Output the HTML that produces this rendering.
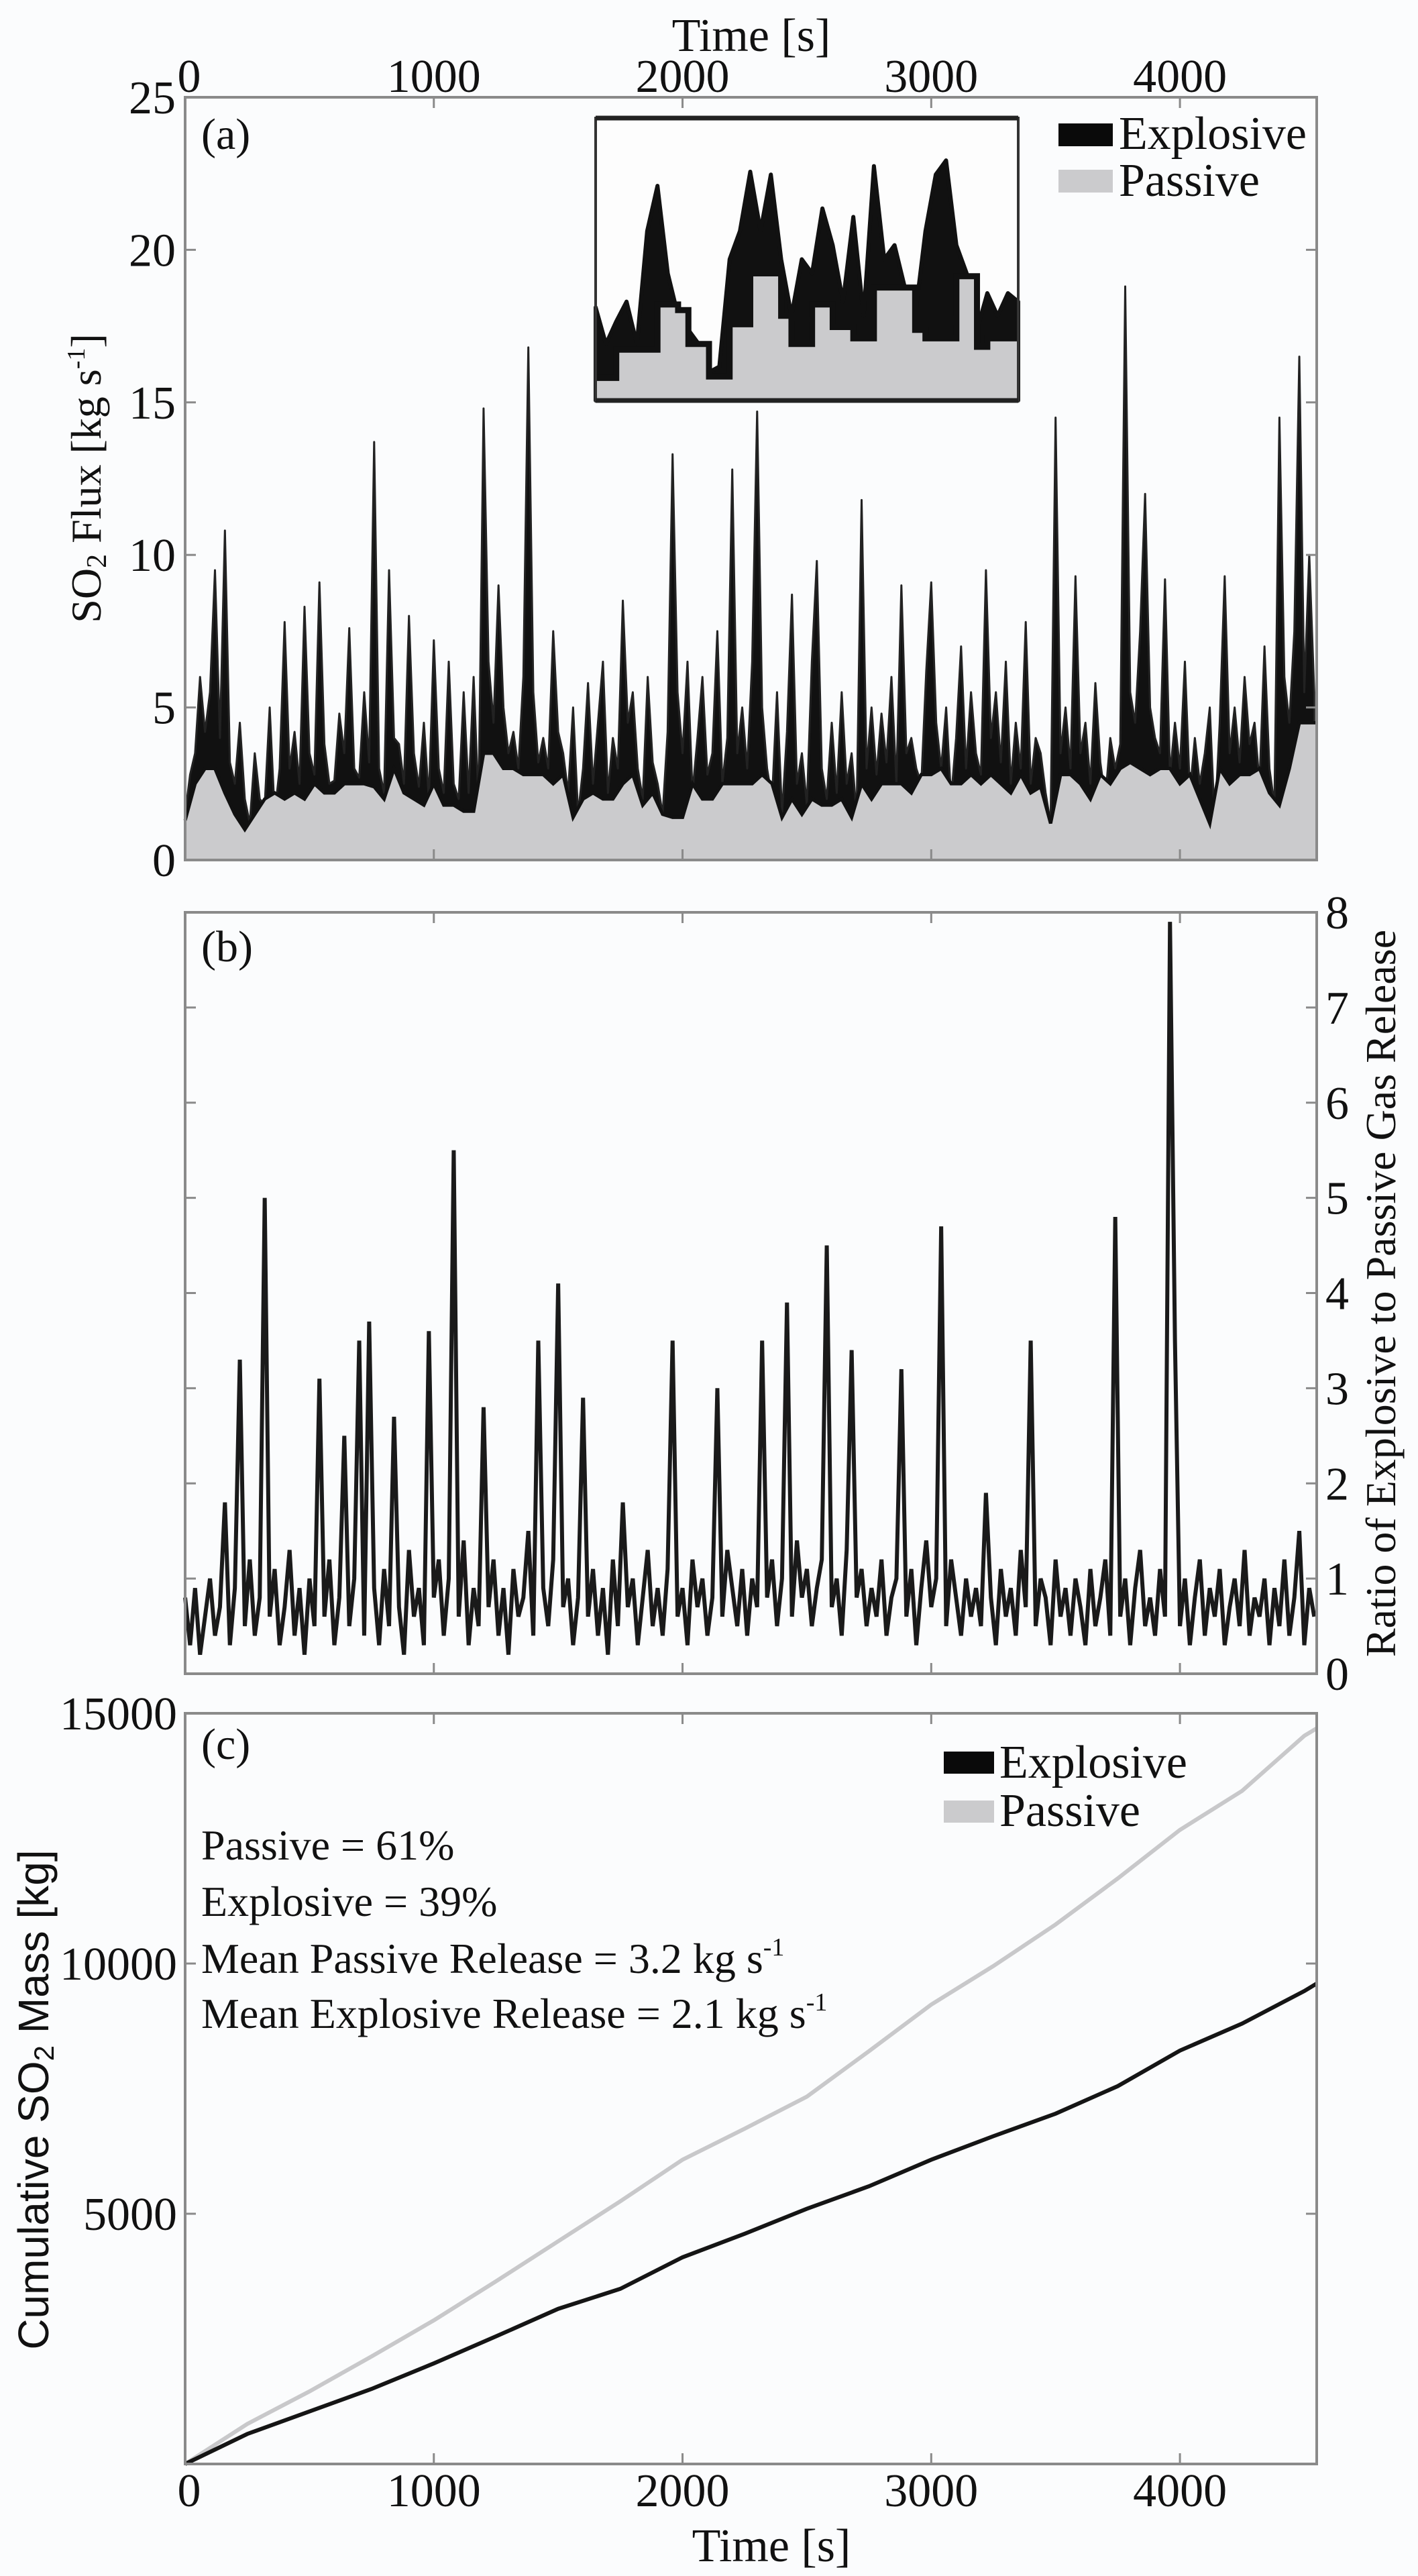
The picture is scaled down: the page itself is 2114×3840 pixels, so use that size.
<!DOCTYPE html>
<html><head><meta charset="utf-8">
<style>
html,body{margin:0;padding:0;background:#fbfcfd;}
svg{display:block;font-family:"Liberation Serif",serif;}
</style></head>
<body>
<svg id="fig" width="2114" height="3840" viewBox="0 0 2114 3840" xmlns="http://www.w3.org/2000/svg">
<rect width="2114" height="3840" fill="#fbfcfd"/>
</svg>
<script>
// ---------- data ----------
const timeTicks = [0,1000,2000,3000,4000];
const tMax = 4550;
// panel (a): SO2 flux, total (explosive+passive) at 20 s steps
const fluxStep = 20;
const fluxTotal = [
1.5,2.8,3.5,6.0,4.2,5.5,9.5,4.0,10.8,3.2,2.5,4.5,2.0,1.2,3.5,2.0,1.8,5.0,1.5,3.0,
7.8,3.0,4.2,2.5,8.3,3.5,2.8,9.1,3.8,2.5,2.6,4.8,3.5,7.6,3.0,2.7,5.5,3.2,13.7,3.0,
2.2,9.5,4.0,3.8,2.5,8.0,3.5,2.4,4.5,2.0,7.2,3.0,2.2,6.5,2.5,2.0,5.5,2.2,6.0,1.8,
14.8,6.5,4.5,9.0,5.0,3.5,4.2,3.0,6.0,16.8,5.5,3.2,4.0,3.0,7.5,4.2,3.5,2.2,5.0,1.5,
3.0,5.8,2.5,4.5,6.5,2.2,4.0,3.0,8.5,4.5,5.5,3.0,2.0,6.0,3.2,2.5,1.5,4.2,13.3,5.5,
3.5,6.5,2.2,4.0,6.0,2.8,3.5,7.5,2.5,4.0,12.8,3.5,5.0,3.0,6.5,14.7,5.0,3.0,2.0,5.5,
1.5,4.2,8.7,2.5,3.5,1.8,6.5,9.8,3.0,2.0,4.5,2.2,5.5,2.5,3.5,1.5,11.8,3.0,5.0,2.8,
4.8,3.2,6.0,2.5,9.0,3.5,4.0,3.0,2.5,6.2,9.1,4.5,3.0,5.0,2.0,4.0,7.0,3.0,5.5,3.5,
2.8,9.5,4.0,5.5,3.2,6.5,2.5,4.5,3.0,7.8,2.5,4.0,3.5,2.2,1.2,14.5,3.5,5.0,3.0,9.3,
3.5,4.5,2.5,5.8,3.2,2.0,4.0,3.0,3.8,18.8,5.5,4.5,7.5,12.0,5.0,4.0,3.5,9.2,2.8,4.5,
3.0,6.5,2.2,4.0,2.5,3.5,5.0,1.2,4.5,9.3,3.5,5.0,3.2,6.0,3.8,4.5,2.5,7.0,3.0,1.8,
14.5,6.0,4.5,7.5,16.5,5.5,10.0,5.5];
// passive flux at 40 s steps
const passiveStep = 40;
const fluxPassive = [
1.3,2.5,3.0,3.0,2.2,1.5,1.0,1.5,2.0,2.2,2.0,2.2,2.0,2.5,2.2,2.2,2.5,2.5,2.5,2.4,
2.0,3.0,2.2,2.0,1.8,2.5,1.8,1.8,1.6,1.6,3.5,3.5,3.0,3.0,2.8,2.8,2.8,2.5,2.8,1.4,
2.0,2.2,2.0,2.0,2.5,2.8,1.8,2.2,1.5,1.4,1.4,2.5,2.0,2.0,2.5,2.5,2.5,2.5,2.8,2.5,
1.4,2.0,1.5,2.0,1.8,1.8,2.0,1.4,2.5,2.0,2.5,2.5,2.5,2.2,2.8,2.8,3.0,2.5,2.5,2.8,
2.5,2.8,2.5,2.2,2.8,2.2,2.4,1.2,2.8,2.8,2.5,2.0,2.8,2.5,3.0,3.2,3.0,2.8,3.0,3.0,
2.5,2.8,2.0,1.2,3.0,2.5,2.8,2.8,3.0,2.2,1.8,3.0,4.5,4.5];
const fluxTicks = [0,5,10,15,20,25];
// inset (unitless zoom of a segment)
const insetTotal = [3.3,2.0,2.8,3.5,2.0,6.0,7.6,4.5,3.0,2.5,2.0,1.0,1.2,5.0,6.0,8.1,6.0,8.0,5.0,3.0,5.0,4.5,6.8,5.5,3.5,6.5,3.0,8.3,5.0,5.5,4.0,3.0,6.0,8.0,8.5,5.5,4.5,2.5,3.8,3.0,3.8,3.5];
const insetPassive = [0.8,0.8,1.8,1.8,1.8,1.8,3.4,3.4,3.2,2.0,2.0,0.85,0.85,2.7,2.7,4.5,4.5,4.5,3.0,2.0,2.0,3.4,3.4,2.6,2.6,2.2,2.2,4.0,4.0,4.0,4.0,2.5,2.2,2.2,2.2,4.4,4.4,1.9,2.2,2.2,2.2,2.2];
// panel (b): ratio, 20 s steps
const ratioStep = 20;
const ratio = [
0.8,0.3,0.9,0.2,0.6,1.0,0.4,0.7,1.8,0.3,0.9,3.3,0.5,1.2,0.4,0.8,5.0,0.6,1.1,0.3,
0.7,1.3,0.4,0.9,0.2,1.0,0.5,3.1,0.6,1.2,0.3,0.8,2.5,0.5,1.0,3.5,0.4,3.7,0.9,0.3,
1.1,0.5,2.7,0.7,0.2,1.3,0.6,0.9,0.3,3.6,0.8,1.2,0.4,1.0,5.5,0.6,1.4,0.3,0.9,0.5,
2.8,0.7,1.2,0.4,0.9,0.2,1.1,0.6,0.8,1.5,0.4,3.5,0.9,0.5,1.2,4.1,0.7,1.0,0.3,0.8,
2.9,0.6,1.1,0.4,0.9,0.2,1.2,0.5,1.8,0.7,1.0,0.3,0.8,1.3,0.5,0.9,0.4,1.1,3.5,0.6,
0.9,0.3,1.2,0.7,1.0,0.4,0.8,3.0,0.6,1.3,0.9,0.5,1.1,0.4,1.0,0.7,3.5,0.8,1.2,0.5,
1.0,3.9,0.6,1.4,0.8,1.1,0.5,0.9,1.2,4.5,0.7,1.0,0.4,1.3,3.4,0.8,1.1,0.5,0.9,0.6,
1.2,0.4,0.8,1.0,3.2,0.6,1.1,0.3,0.9,1.4,0.7,1.0,4.7,0.5,1.2,0.8,0.4,1.0,0.6,0.9,
0.5,1.9,0.8,0.3,1.1,0.6,0.9,0.4,1.3,0.7,3.5,0.5,1.0,0.8,0.3,1.2,0.6,0.9,0.4,1.0,
0.7,0.3,1.1,0.5,0.8,1.2,0.4,4.8,0.6,1.0,0.3,0.9,1.3,0.5,0.8,0.4,1.1,0.6,7.9,3.5,
0.5,1.0,0.3,0.8,1.2,0.4,0.9,0.6,1.1,0.3,0.7,1.0,0.5,1.3,0.4,0.8,0.6,1.0,0.3,0.9,
0.5,1.2,0.4,0.8,1.5,0.3,0.9,0.6];
const ratioTicks = [0,1,2,3,4,5,6,7,8];
// panel (c): cumulative mass
const cumTime = [0,250,500,750,1000,1250,1500,1750,2000,2250,2500,2750,3000,3250,3500,3750,4000,4250,4500,4550];
const cumPassive = [0,800,1450,2150,2870,3650,4450,5250,6080,6700,7340,8250,9180,9950,10780,11700,12670,13450,14550,14700];
const cumExplosive = [0,600,1050,1500,2010,2550,3100,3500,4130,4600,5100,5550,6080,6550,7000,7550,8260,8800,9450,9600];
const massTicks = [5000,10000,15000];

// ---------- helpers ----------
const NS = "http://www.w3.org/2000/svg";
const svg = document.getElementById('fig');
function mk(tag, attrs, parent){
  const e = document.createElementNS(NS, tag);
  for (const k in attrs) e.setAttribute(k, attrs[k]);
  (parent||svg).appendChild(e);
  return e;
}
const L = 276, R = 1963;
const X = t => L + (t / tMax) * (R - L);
const AX = "#8a8a8a";
const A = {top:145, bot:1282, max:25};
const B = {top:1360, bot:2495, max:8};
const C = {top:2554, bot:3673, max:15000};
const Ya = v => A.bot - v / A.max * (A.bot - A.top);
const Yb = v => B.bot - v / B.max * (B.bot - B.top);
const Yc = v => C.bot - v / C.max * (C.bot - C.top);

function text(str, x, y, size, anchor, name, extra){
  const t = mk('text', Object.assign({x:x, y:y, 'font-size':size, 'text-anchor':anchor||'middle', fill:'#111'}, extra||{}));
  t.textContent = str;
  
  
  return t;
}

// ---------- panel (a) ----------
const gA = mk('g', {});


let pts = [[X(0), Ya(0)]];
fluxTotal.forEach((v,i)=>pts.push([X(Math.min(i*fluxStep,tMax)), Ya(v)]));
pts.push([X(Math.min((fluxTotal.length-1)*fluxStep,tMax)), Ya(0)]);
const expArea = mk('polygon', {points: pts.map(p=>p.join(',')).join(' '), fill:'#111', stroke:'#222', 'stroke-width':3, 'stroke-linejoin':'round'}, gA);


pts = [[X(0), Ya(0)]];
fluxPassive.forEach((v,i)=>pts.push([X(Math.min(i*passiveStep,tMax)), Ya(v)]));
pts.push([X(tMax), Ya(fluxPassive[fluxPassive.length-1])]);
pts.push([X(tMax), Ya(0)]);
const pasArea = mk('polygon', {points: pts.map(p=>p.join(',')).join(' '), fill:'#cbcbcd'}, gA);


const pasEdge = mk('polyline', {points: pts.slice(1,-1).map(p=>p.join(',')).join(' '), fill:'none', stroke:'#111', 'stroke-width':5}, gA);



function frame(P, name){
  const r = mk('rect', {x:L, y:P.top, width:R-L, height:P.bot-P.top, fill:'none', stroke:AX, 'stroke-width':4});
  
  
  timeTicks.forEach(t=>{
    mk('line', {x1:X(t), x2:X(t), y1:P.bot, y2:P.bot-16, stroke:AX, 'stroke-width':3});
    mk('line', {x1:X(t), x2:X(t), y1:P.top, y2:P.top+16, stroke:AX, 'stroke-width':3});
  });
}
frame(A, 'panel-a-frame');
fluxTicks.forEach(v=>{
  mk('line', {x1:L, x2:L+16, y1:Ya(v), y2:Ya(v), stroke:AX, 'stroke-width':3});
  mk('line', {x1:R, x2:R-16, y1:Ya(v), y2:Ya(v), stroke:AX, 'stroke-width':3});
  text(String(v), 262, Ya(v)+24, 70, 'end', 'y-tick-label-a');
});
timeTicks.forEach(t=>{
  text(String(t), X(t)+ (t===0?6:0), 137, 70, 'middle', 'top-x-tick-label');
});
text('Time [s]', 1120, 76, 70, 'middle', 'top-x-axis-title');
const yla = text('', 0, 0, 64, 'middle', 'y-axis-title-a', {transform:'translate(150,713) rotate(-90)'});
yla.innerHTML = 'SO<tspan font-size="42" dy="8">2</tspan><tspan dy="-8"> Flux [kg s</tspan><tspan font-size="38" dy="-24">-1</tspan><tspan dy="24">]</tspan>';
text('(a)', 300, 222, 66, 'start', 'panel-a-label');

// inset
const IN = {l:888, r:1518, t:176, b:597, max:10};
const IX = i => IN.l + i/(insetTotal.length-1)*(IN.r-IN.l);
const IY = v => IN.b - v/IN.max*(IN.b-IN.t);
const gI = mk('g', {});


mk('rect', {x:IN.l, y:IN.t, width:IN.r-IN.l, height:IN.b-IN.t, fill:'#fdfdfd'}, gI);
let ip = [[IN.l, IY(0)]].concat(insetTotal.map((v,i)=>[IX(i), IY(v)])).concat([[IN.r, IY(0)]]);
const inE = mk('polygon', {points: ip.map(p=>p.join(',')).join(' '), fill:'#111', stroke:'#111', 'stroke-width':6, 'stroke-linejoin':'round'}, gI);


ip = [[IN.l, IY(0)]];
insetPassive.forEach((v,i)=>{ if(i>0) ip.push([IX(i)-0.01, IY(insetPassive[i-1])]); ip.push([IX(i), IY(v)]); });
ip.push([IN.r, IY(0)]);
const inP = mk('polygon', {points: ip.map(p=>p.join(',')).join(' '), fill:'#cbcbcd'}, gI);


mk('polyline', {points: ip.slice(1,-1).map(p=>p.join(',')).join(' '), fill:'none', stroke:'#111', 'stroke-width':9}, gI);
mk('rect', {x:IN.l, y:IN.t, width:IN.r-IN.l, height:IN.b-IN.t, fill:'none', stroke:'#333', 'stroke-width':4}, gI);
mk('line', {x1:IN.l, x2:IN.r, y1:IN.t, y2:IN.t, stroke:'#222', 'stroke-width':7}, gI);
mk('line', {x1:IN.l, x2:IN.r, y1:IN.b, y2:IN.b, stroke:'#222', 'stroke-width':7}, gI);

// legend a
const la1 = mk('rect', {x:1578, y:184, width:81, height:34, fill:'#0a0a0a'});


text('Explosive', 1668, 222, 70, 'start', 'legend-entry-explosive-a');
const la2 = mk('rect', {x:1578, y:253, width:81, height:34, fill:'#cbcbcd'});


text('Passive', 1668, 292, 70, 'start', 'legend-entry-passive-a');

// ---------- panel (b) ----------
const gB = mk('g', {});


const rp = ratio.map((v,i)=>[X(Math.min(i*ratioStep,tMax)), Yb(v)]);
const rl = mk('polyline', {points: rp.map(p=>p.join(',')).join(' '), fill:'none', stroke:'#1a1a1a', 'stroke-width':6, 'stroke-linejoin':'miter'}, gB);


frame(B, 'panel-b-frame');
ratioTicks.forEach(v=>{
  mk('line', {x1:L, x2:L+16, y1:Yb(v), y2:Yb(v), stroke:AX, 'stroke-width':3});
  mk('line', {x1:R, x2:R-16, y1:Yb(v), y2:Yb(v), stroke:AX, 'stroke-width':3});
  text(String(v), 1976, Yb(v)+24, 70, 'start', 'right-y-tick-label-b');
});
text('(b)', 300, 1433, 66, 'start', 'panel-b-label');
text('Ratio of Explosive to Passive Gas Release', 0, 0, 64, 'middle', 'right-y-axis-title-b', {transform:'translate(2080,1928) rotate(-90)'});

// ---------- panel (c) ----------
const gC = mk('g', {});


const cp = mk('polyline', {points: cumTime.map((t,i)=>X(t)+','+Yc(cumPassive[i])).join(' '), fill:'none', stroke:'#c8c8ca', 'stroke-width':6}, gC);


const ce = mk('polyline', {points: cumTime.map((t,i)=>X(t)+','+Yc(cumExplosive[i])).join(' '), fill:'none', stroke:'#151515', 'stroke-width':6}, gC);


frame(C, 'panel-c-frame');
massTicks.forEach(v=>{
  mk('line', {x1:L, x2:L+16, y1:Yc(v), y2:Yc(v), stroke:AX, 'stroke-width':3});
  mk('line', {x1:R, x2:R-16, y1:Yc(v), y2:Yc(v), stroke:AX, 'stroke-width':3});
  text(String(v), 264, Yc(v)+24, 70, 'end', 'y-tick-label-c');
});
timeTicks.forEach(t=>{
  text(String(t), X(t)+(t===0?6:0), 3736, 70, 'middle', 'bottom-x-tick-label');
});
text('Time [s]', 1150, 3818, 70, 'middle', 'bottom-x-axis-title');
const ylc = text('', 0, 0, 64, 'middle', 'y-axis-title-c', {transform:'translate(72,3130) rotate(-90)', 'font-family':'"Liberation Sans",sans-serif'});
ylc.innerHTML = 'Cumulative SO<tspan font-size="42" dy="8">2</tspan><tspan dy="-8"> Mass [kg]</tspan>';
text('(c)', 300, 2622, 66, 'start', 'panel-c-label');
const lc1 = mk('rect', {x:1407, y:2611, width:75, height:33, fill:'#0a0a0a'});


text('Explosive', 1490, 2650, 70, 'start', 'legend-entry-explosive-c');
const lc2 = mk('rect', {x:1407, y:2684, width:75, height:33, fill:'#cbcbcd'});


text('Passive', 1490, 2722, 70, 'start', 'legend-entry-passive-c');
text('Passive = 61%', 300, 2772, 64, 'start', 'annotation-passive-percent');
text('Explosive = 39%', 300, 2856, 64, 'start', 'annotation-explosive-percent');
const m1 = text('', 300, 2941, 64, 'start', 'annotation-mean-passive');
m1.innerHTML = 'Mean Passive Release = 3.2 kg s<tspan font-size="38" dy="-26">-1</tspan>';
const m2 = text('', 300, 3023, 64, 'start', 'annotation-mean-explosive');
m2.innerHTML = 'Mean Explosive Release = 2.1 kg s<tspan font-size="38" dy="-26">-1</tspan>';
</script>
</body></html>
